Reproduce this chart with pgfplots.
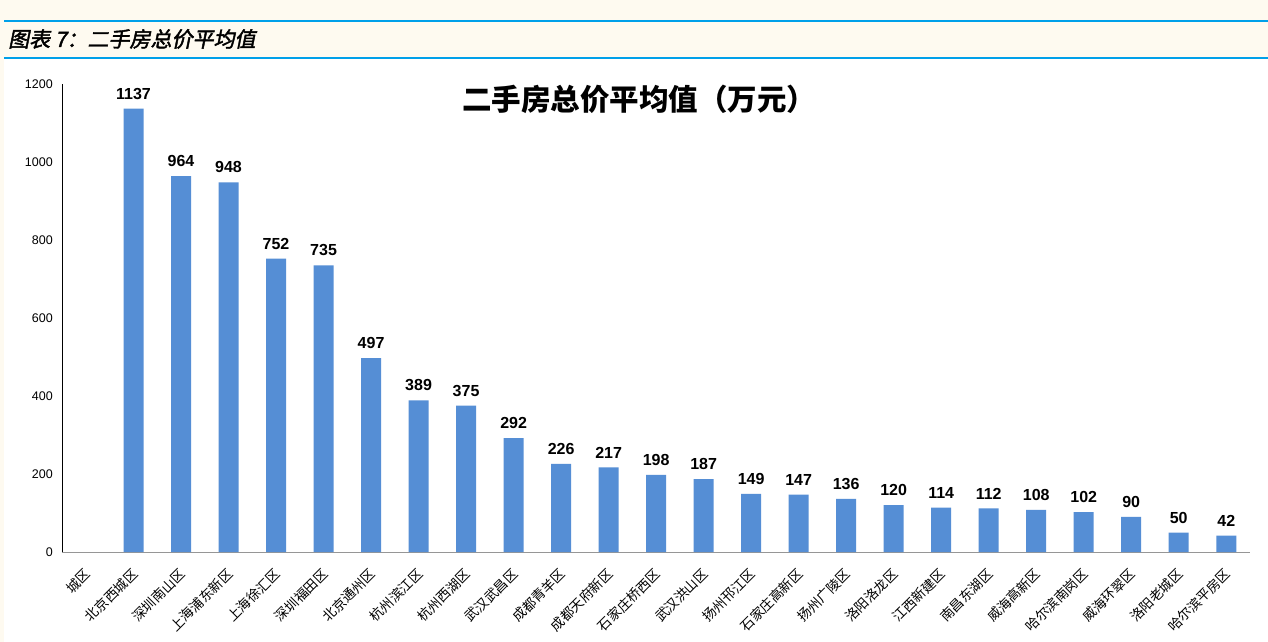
\documentclass[border=0pt]{standalone}
\usepackage{fontspec}
\setmainfont{Liberation Sans}
\newfontfamily\cjk{Noto Sans CJK SC}
\newfontfamily\cjkcap[FakeSlant=0.2,FakeBold=2]{Noto Sans CJK SC}
\usepackage{pgfplots}
\pgfplotsset{compat=1.18}
\definecolor{cream}{RGB}{254,250,240}
\definecolor{capblue}{RGB}{0,160,233}
\definecolor{barblue}{RGB}{85,142,213}
\definecolor{axgray}{RGB}{150,150,150}
\begin{document}
\begin{tikzpicture}
% page background and caption band
\fill[cream] (0pt,0pt) rectangle (1268pt,642pt);
\fill[white] (4pt,0pt) rectangle (1268pt,584pt);
\draw[capblue, line width=2pt] (4pt,621pt) -- (1268pt,621pt);
\draw[capblue, line width=1.5pt] (4pt,584pt) -- (1268pt,584pt);
\node[anchor=west, inner sep=0pt] at (8pt,603pt) {\cjkcap\fontsize{21}{21}\selectfont 图表 7：二手房总价平均值};
\begin{axis}[
    at={(62.25pt,90pt)}, anchor=south west,
    scale only axis,
    width=1187.75pt, height=468pt,
    xmin=-0.5, xmax=24.5,
    ymin=0, ymax=1200,
    ytick={0,200,...,1200},
    xtick={0,...,24},
    xticklabels={城区,北京西城区,深圳南山区,上海浦东新区,上海徐汇区,深圳福田区,北京通州区,杭州滨江区,杭州西湖区,武汉武昌区,成都青羊区,成都天府新区,石家庄桥西区,武汉洪山区,扬州邗江区,石家庄高新区,扬州广陵区,洛阳洛龙区,江西新建区,南昌东湖区,威海高新区,哈尔滨南岗区,威海环翠区,洛阳老城区,哈尔滨平房区},
    axis x line*=bottom, axis y line*=left,
    x axis line style={draw=axgray, line width=1pt},
    y axis line style={draw=black, line width=0.8pt},
    major tick length=0pt,
    /pgf/number format/.cd, 1000 sep={}, assume math mode=true, /pgfplots/.cd,
    yticklabel style={font=\fontsize{12.5}{13}\selectfont, xshift=-6pt},
    xticklabel style={font=\cjk\fontsize{13.5}{14}\selectfont, xshift=4pt, yshift=-17pt, rotate=45, anchor=east},
    ybar, bar width=20pt,
    nodes near coords,
    every node near coord/.append style={font=\bfseries\fontsize{16}{16}\selectfont, anchor=south, inner sep=0pt, yshift=9pt},
]
\addplot[fill=barblue, draw=none] coordinates {
    (1,1137) (2,964) (3,948) (4,752) (5,735) (6,497) (7,389) (8,375)
    (9,292) (10,226) (11,217) (12,198) (13,187) (14,149) (15,147) (16,136)
    (17,120) (18,114) (19,112) (20,108) (21,102) (22,90) (23,50) (24,42)
};
\end{axis}
\node[inner sep=0pt] at (639pt,543pt) {\cjk\bfseries\fontsize{29.5}{29.5}\selectfont 二手房总价平均值（万元）};
\pgfresetboundingbox
\path[use as bounding box] (0pt,0pt) rectangle (1268pt,642pt);
\end{tikzpicture}
\end{document}
